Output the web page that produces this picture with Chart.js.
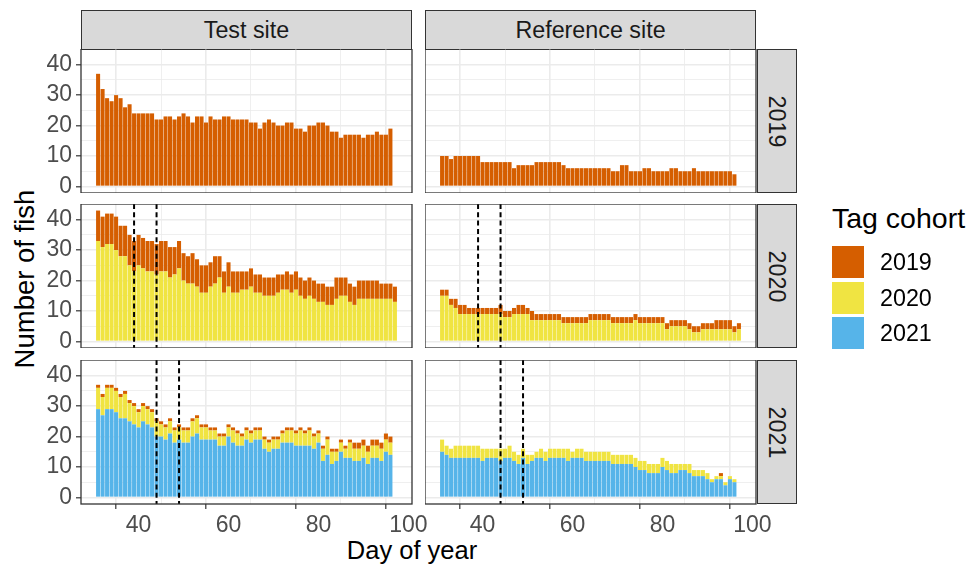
<!DOCTYPE html>
<html>
<head>
<meta charset="utf-8">
<script src="https://cdn.jsdelivr.net/npm/chart.js@4.4.1/dist/chart.umd.min.js"></script>
<style>
  body { margin: 0; background: #fff; }
  #fig { position: relative; width: 969px; height: 570px; overflow: hidden; font-family: "Liberation Sans", Arial, sans-serif; }
  #fig canvas { position: absolute; }
  .strip { position: absolute; box-sizing: border-box; background: #d9d9d9; border: 1.3px solid #333; color: #1a1a1a; font-size: 23.3px; display: flex; align-items: center; justify-content: center; }
  .strip.side span { transform: rotate(90deg); white-space: nowrap; }
  .title { position: absolute; color: #000; line-height: 1; white-space: nowrap; }
  .key { position: absolute; left: 832px; width: 32px; height: 32px; }
  .klab { position: absolute; left: 880px; font-size: 23.3px; line-height: 32px; color: #000; }
</style>
</head>
<body>
<div id="fig">
  <div class="title" style="left:412px;top:538px;font-size:25.5px;transform:translateX(-50%)">Day of year</div>
  <div class="title" style="left:25px;top:279px;font-size:27.5px;transform:translate(-50%,-50%) rotate(-90deg)">Number of fish</div>
  <div class="title" style="left:832px;top:204px;font-size:28.5px">Tag cohort</div>
</div>
<script>
// day of year for each bar
const days = [31,32,33,34,35,36,37,38,39,40,41,42,43,44,45,46,47,48,49,50,
  51,52,53,54,55,56,57,58,59,60,61,62,63,64,65,66,67,68,69,70,
  71,72,73,74,75,76,77,78,79,80,81,82,83,84,85,86,87,88,89,90,
  91,92,93,94,95,96,97];

const sites = ['Test site', 'Reference site'];
const years = ['2019', '2020', '2021'];
const cohorts = ['2019', '2020', '2021'];
const colours = ['#D55E00', '#F0E442', '#56B4E9'];
const xTicks = [30, 40, 50, 60, 70, 80, 90, 100];
const yTicks = [0, 5, 10, 15, 20, 25, 30, 35, 40];
// dashed lines per year row
const markDays = { '2019': [], '2020': [39, 44], '2021': [44, 49] };

// Test site
const test19_c2019 = [37,32,29,28,30,29,26,27,24,24, 24,24,24,22,22,23,23,22,23,24,
  23,21,23,23,21,23,22,22,23,23, 22,22,22,22,21,21,19,21,22,21,
  20,20,21,21,19,19,18,20,20,21, 21,20,18,18,16,17,17,17,17,16,
  17,17,18,17,17,19];
const test20_c2019 = [10,10,10,10,11,10,10,10,10,10, 10,10,10,10,10,10,10,9,9,9,
  9,10,9,9,9,8,9,7,7,8, 7,7,6,6,6,6,6,6,6,6,
  6,5,6,6,6,6,6,6,6,6, 6,6,6,7,6,6,6,6,6,6,
  6,6,6,5,5,5,5];
const test20_c2020 = [33,31,32,32,30,28,28,25,23,25, 24,23,23,22,23,23,21,22,24,20,
  19,19,18,16,16,18,19,21,16,18, 16,16,17,17,18,16,16,15,15,15,
  16,17,17,16,17,15,14,15,14,13, 13,12,12,14,15,15,13,12,14,14,
  14,14,14,14,14,14,13];
const test21_c2019 = [1,1,1,1,1,1,1,1,1,1, 1,1,1,1,1,1,1,1,1,1,
  1,1,1,1,1,1,1,1,1,1, 1,1,1,1,1,1,1,1,1,1,
  1,1,1,1,1,1,1,1,1,1, 1,1,1,1,1,1,1,2,2,2,
  2,2,2,2,2,2];
const test21_c2020 = [7,6,7,7,7,7,8,6,6,5, 5,5,5,5,4,4,4,4,4,4,
  4,5,5,4,4,3,3,3,3,3, 4,4,3,3,3,3,3,3,3,3,
  3,3,4,4,4,5,4,5,4,3, 4,5,4,3,3,3,5,4,4,4,
  4,4,4,4,4,4];
const test21_c2021 = [29,27,29,29,28,26,26,25,24,23, 25,24,23,20,20,19,21,18,19,18,
  18,20,21,19,19,19,19,17,17,20, 18,17,17,19,18,19,19,16,15,16,
  16,18,18,18,17,17,17,17,16,18, 12,14,11,12,15,13,13,12,12,13,
  11,13,13,12,15,14];

// Reference site
const ref19_c2019 = [10,10,9,10,10,10,10,10,10,8, 8,8,8,8,8,8,6,7,7,7,
  7,8,8,8,8,8,8,7,6,6, 6,6,6,6,6,6,6,6,5,5,
  7,7,5,5,5,6,6,5,5,5, 5,6,6,5,5,5,6,5,5,5,
  5,5,5,5,5,4];
const ref20_c2019 = [2,2,2,3,3,3,2,2,2,2, 2,2,2,3,2,2,2,3,3,2,
  3,2,2,2,2,2,2,2,2,2, 2,2,2,2,2,2,2,2,2,2,
  2,2,2,2,2,2,2,2,2,2, 2,2,2,2,2,2,2,2,2,2,
  2,3,3,3,3,2,2];
const ref20_c2020 = [15,15,12,11,9,9,9,9,9,9, 9,9,9,9,8,8,9,9,9,9,
  7,7,7,7,7,7,7,6,6,6, 6,6,6,7,7,7,7,7,6,6,
  6,6,6,7,6,6,6,6,6,6, 4,5,5,5,5,4,3,3,4,4,
  4,4,4,4,4,3,4];
const ref21_c2019 = [0,0,0,0,0,0,0,0,0,0, 0,0,0,0,0,0,0,0,0,0,
  0,0,0,0,0,0,0,0,0,0, 0,0,0,0,0,0,0,0,0,0,
  0,0,0,0,0,0,0,0,0,0, 0,0,0,0,0,0,0,0,0,0,
  0,0,1,0,0,0];
const ref21_c2020 = [4,3,3,4,4,4,4,4,4,4, 3,3,3,4,3,4,3,3,3,3,
  2,2,3,3,3,3,3,3,4,2, 3,3,3,3,3,3,3,3,3,3,
  3,3,3,3,3,3,3,3,3,3, 3,3,3,2,2,3,2,2,2,2,
  1,1,1,1,1,1];
const ref21_c2021 = [15,14,13,13,13,13,13,13,13,12, 13,13,13,12,13,13,12,11,13,11,
  12,13,13,12,13,13,13,13,12,13, 13,13,12,12,12,12,12,12,11,11,
  11,11,11,10,9,9,8,8,8,10, 9,8,8,9,9,8,7,7,7,6,
  5,6,6,4,6,5];

// [site][year] -> series per cohort (2019, 2020, 2021)
const panels = [
  [[test19_c2019, null, null], [test20_c2019, test20_c2020, null], [test21_c2019, test21_c2020, test21_c2021]],
  [[ref19_c2019, null, null], [ref20_c2019, ref20_c2020, null], [ref21_c2019, ref21_c2020, ref21_c2021]]
];

const colLeft = [81, 425];
const rowTop = [49, 204, 360];
const panelW = 331, panelH = 144;

Chart.defaults.font.family = '"Liberation Sans", Arial, sans-serif';

const panelDecor = {
  id: 'panelDecor',
  afterDatasetsDraw(chart, args, opts) {
    const ctx = chart.ctx, a = chart.chartArea, xs = chart.scales.x;
    ctx.save();
    ctx.strokeStyle = '#000';
    ctx.lineWidth = 2;
    ctx.setLineDash([5, 3.3]);
    opts.marks.forEach(d => {
      const px = xs.getPixelForValue(d);
      ctx.beginPath();
      ctx.moveTo(px, a.top);
      ctx.lineTo(px, a.bottom);
      ctx.stroke();
    });
    ctx.restore();
  },
  afterDraw(chart) {
    const ctx = chart.ctx, a = chart.chartArea;
    ctx.save();
    ctx.strokeStyle = '#333333';
    ctx.lineWidth = 1.3;
    ctx.strokeRect(a.left, a.top, a.right - a.left, a.bottom - a.top);
    ctx.restore();
  }
};

function zeroPad(s) {
  s.paddingLeft = 0; s.paddingRight = 0; s.paddingTop = 0; s.paddingBottom = 0;
}

const fig = document.getElementById('fig');

sites.forEach((site, si) => {
  const strip = document.createElement('div');
  strip.className = 'strip';
  strip.style.cssText = `left:${colLeft[si]}px;top:10px;width:${panelW}px;height:40px`;
  strip.textContent = site;
  fig.appendChild(strip);

  years.forEach((yr, ri) => {
    const isLeft = si === 0, isBottom = ri === 2;
    const padL = isLeft ? 61 : 0, padR = 20, padB = isBottom ? 40 : 0;
    const cv = document.createElement('canvas');
    cv.width = panelW + padL + padR;
    cv.height = panelH + padB;
    cv.style.left = (colLeft[si] - padL) + 'px';
    cv.style.top = rowTop[ri] + 'px';
    fig.appendChild(cv);

    const series = panels[si][ri];
    const datasets = [2, 1, 0].filter(c => series[c]).map(c => ({
      label: cohorts[c],
      data: series[c].map((v, i) => ({ x: days[i], y: v })),
      backgroundColor: colours[c],
      borderWidth: 0,
      barPercentage: 0.9,
      categoryPercentage: 1
    }));

    new Chart(cv, {
      type: 'bar',
      data: { datasets },
      options: {
        responsive: false,
        animation: false,
        events: [],
        layout: { padding: { left: 0, right: padR, top: 0, bottom: 0 } },
        plugins: {
          legend: { display: false },
          tooltip: { enabled: false },
          panelDecor: { marks: markDays[yr] }
        },
        scales: {
          x: {
            type: 'linear', min: 27.2, max: 100.8, stacked: true, offset: false,
            afterBuildTicks: s => { s.ticks = xTicks.map(v => ({ value: v })); },
            afterFit: s => { s.height = padB; zeroPad(s); },
            border: { display: false },
            grid: {
              color: '#ebebeb',
              lineWidth: c => (c.tick && c.tick.value % 20 === 0) ? 1.6 : 0.8,
              drawTicks: isBottom,
              tickLength: 5,
              tickWidth: 1.2,
              tickColor: c => (c.tick && c.tick.value % 20 === 0) ? '#333333' : 'rgba(0,0,0,0)'
            },
            ticks: {
              display: isBottom,
              autoSkip: false,
              maxRotation: 0,
              padding: 3,
              color: '#4d4d4d',
              font: { size: 23 },
              callback: v => (v % 20 === 0 ? String(v) : '')
            }
          },
          y: {
            type: 'linear', min: -2.15, max: 45.15, stacked: true,
            afterBuildTicks: s => { s.ticks = yTicks.map(v => ({ value: v })); },
            afterFit: s => { s.width = padL; zeroPad(s); },
            border: { display: false },
            grid: {
              color: '#ebebeb',
              lineWidth: c => (c.tick && c.tick.value % 10 === 0) ? 1.6 : 0.8,
              drawTicks: isLeft,
              tickLength: 5,
              tickWidth: 1.2,
              tickColor: c => (c.tick && c.tick.value % 10 === 0) ? '#333333' : 'rgba(0,0,0,0)'
            },
            ticks: {
              display: isLeft,
              autoSkip: false,
              padding: 4,
              color: '#4d4d4d',
              font: { size: 23 },
              callback: v => (v % 10 === 0 ? String(v) : '')
            }
          }
        }
      },
      plugins: [panelDecor]
    });

    if (si === 1) {
      const side = document.createElement('div');
      side.className = 'strip side';
      side.style.cssText = `left:757px;top:${rowTop[ri]}px;width:40px;height:${panelH}px`;
      side.innerHTML = `<span>${yr}</span>`;
      fig.appendChild(side);
    }
  });
});

// legend
cohorts.forEach((c, i) => {
  const k = document.createElement('div');
  k.className = 'key';
  k.style.top = (246 + i * 35.7) + 'px';
  k.style.background = colours[i];
  fig.appendChild(k);
  const l = document.createElement('div');
  l.className = 'klab';
  l.style.top = (246 + i * 35.7) + 'px';
  l.textContent = c;
  fig.appendChild(l);
});
</script>
</body>
</html>
